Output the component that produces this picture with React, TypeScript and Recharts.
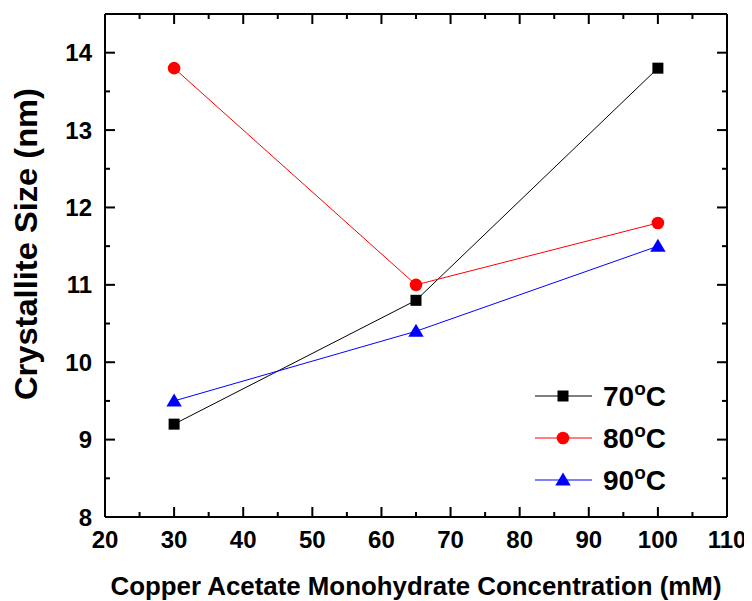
import React from 'react';
import { LineChart, Line, XAxis, YAxis } from 'recharts';

const concentrations = [30, 65, 100];
const size70 = [9.2, 10.8, 13.8];
const size80 = [13.8, 11.0, 11.8];
const size90 = [9.5, 10.4, 11.5];
const seriesTemps = ['70', '80', '90'];

const xTicks = [20, 25, 30, 35, 40, 45, 50, 55, 60, 65, 70, 75, 80, 85, 90, 95, 100, 105, 110];
const xMajor = [20, 30, 40, 50, 60, 70, 80, 90, 100, 110];
const yTicks = [8, 8.5, 9, 9.5, 10, 10.5, 11, 11.5, 12, 12.5, 13, 13.5, 14];
const yMajor = [8, 9, 10, 11, 12, 13, 14];

const xTitle = 'Copper Acetate Monohydrate Concentration (mM)';
const yTitle = 'Crystallite Size (nm)';

const data = concentrations.map((c, i) => ({
  x: c,
  s70: size70[i],
  s80: size80[i],
  s90: size90[i],
}));

const seriesStyle = [
  { key: 's70', temp: seriesTemps[0], color: '#000000', shape: 'square' },
  { key: 's80', temp: seriesTemps[1], color: '#ff0000', shape: 'circle' },
  { key: 's90', temp: seriesTemps[2], color: '#0000ff', shape: 'triangle' },
];

function marker(shape: string, color: string, cx: number, cy: number) {
  if (shape === 'square') {
    return <rect x={cx - 5.5} y={cy - 5.5} width={11} height={11} fill={color} />;
  }
  if (shape === 'circle') {
    return <circle cx={cx} cy={cy} r={6.3} fill={color} />;
  }
  return (
    <polygon
      points={`${cx},${cy - 7.5} ${cx + 7.7},${cy + 5.5} ${cx - 7.7},${cy + 5.5}`}
      fill={color}
    />
  );
}

const leftTick = (props: any) => {
  const { x, y, payload } = props;
  const major = yMajor.includes(payload.value);
  return (
    <g key={`l-${payload.value}`}>
      <rect x={x} y={y - 1} width={major ? 10 : 5} height={2} fill="#000" />
      {major && (
        <text x={x - 13} y={y + 8.5} textAnchor="end" fontSize={24} fontWeight="bold" fill="#000">
          {payload.value}
        </text>
      )}
    </g>
  );
};

const bottomTick = (props: any) => {
  const { x, y, payload } = props;
  const major = xMajor.includes(payload.value);
  const len = major ? 10 : 5;
  return (
    <g key={`b-${payload.value}`}>
      <rect x={x - 1} y={y - len} width={2} height={len} fill="#000" />
      {major && (
        <text x={x} y={y + 31} textAnchor="middle" fontSize={24} fontWeight="bold" fill="#000">
          {payload.value}
        </text>
      )}
    </g>
  );
};

const topTick = (props: any) => {
  const { x, y, payload } = props;
  const major = xMajor.includes(payload.value);
  return <rect key={`t-${payload.value}`} x={x - 1} y={y} width={2} height={major ? 10 : 5} fill="#000" />;
};

const rightTick = (props: any) => {
  const { x, y, payload } = props;
  const major = yMajor.includes(payload.value);
  const len = major ? 10 : 5;
  return <rect key={`r-${payload.value}`} x={x - len} y={y - 1} width={len} height={2} fill="#000" />;
};

const Overlay = () => (
  <svg
    width={744}
    height={593}
    style={{ position: 'absolute', left: 0, top: 0, pointerEvents: 'none', overflow: 'visible' }}
  >
    <text
      x={408}
      y={587}
      textAnchor="middle"
      fontSize={26}
      fontWeight="bold"
      fill="#000"
      textLength={611}
      lengthAdjust="spacingAndGlyphs"
    >
      {xTitle}
    </text>
    <text
      x={29}
      y={236}
      transform="rotate(-90, 29, 236)"
      textAnchor="middle"
      fontSize={31}
      fontWeight="bold"
      fill="#000"
      textLength={312}
      lengthAdjust="spacingAndGlyphs"
    >
      {yTitle}
    </text>
    <g transform="translate(520, 368)">
      {seriesStyle.map((s, i) => {
        const cy = 20 + i * 42;
        return (
          <g key={s.key}>
            <line x1={7} x2={64} y1={cy} y2={cy} stroke={s.color} strokeWidth={1} />
            {marker(s.shape, s.color, 35, cy)}
            <text x={75} y={cy + 9.5} fontSize={28} fontWeight="bold" fill="#000">
              {s.temp}
              <tspan fontSize={19} dy={-11}>o</tspan>
              <tspan fontSize={28} dy={11}>C</tspan>
            </text>
          </g>
        );
      })}
    </g>
  </svg>
);

export default function App() {
  return (
    <div
      style={{
        position: 'relative',
        width: 744,
        height: 593,
        fontFamily: '"Liberation Sans", Arial, sans-serif',
      }}
    >
      <LineChart width={744} height={593} data={data} margin={{ top: 5, right: 24, bottom: 0, left: 0 }}>
        <XAxis
          xAxisId="bottom"
          dataKey="x"
          type="number"
          domain={[20, 110]}
          allowDataOverflow
          ticks={xTicks}
          interval={0}
          height={84}
          tickSize={0}
          tickMargin={0}
          tickLine={false}
          tick={bottomTick}
          axisLine={{ stroke: '#000', strokeWidth: 2 }}
        />
        <XAxis
          xAxisId="top"
          orientation="top"
          dataKey="x"
          type="number"
          domain={[20, 110]}
          allowDataOverflow
          ticks={xTicks}
          interval={0}
          height={1}
          tickSize={0}
          tickMargin={0}
          tickLine={false}
          tick={topTick}
          axisLine={{ stroke: '#000', strokeWidth: 2 }}
        />
        <YAxis
          yAxisId="left"
          type="number"
          domain={[8, 14.5]}
          allowDataOverflow
          ticks={yTicks}
          interval={0}
          width={97}
          tickSize={0}
          tickMargin={0}
          tickLine={false}
          tick={leftTick}
          axisLine={{ stroke: '#000', strokeWidth: 2 }}
        />
        <YAxis
          yAxisId="right"
          orientation="right"
          type="number"
          domain={[8, 14.5]}
          allowDataOverflow
          ticks={yTicks}
          interval={0}
          width={1}
          tickSize={0}
          tickMargin={0}
          tickLine={false}
          tick={rightTick}
          axisLine={{ stroke: '#000', strokeWidth: 2 }}
        />
        <Line
          xAxisId="top"
          yAxisId="right"
          dataKey="s70"
          stroke="none"
          dot={false}
          activeDot={false}
          legendType="none"
          isAnimationActive={false}
        />
        {seriesStyle.map((s) => (
          <Line
            key={s.key}
            xAxisId="bottom"
            yAxisId="left"
            dataKey={s.key}
            stroke={s.color}
            strokeWidth={1}
            isAnimationActive={false}
            dot={(p: any) => (
              <g key={`${s.key}-${p.index}`}>{marker(s.shape, s.color, p.cx, p.cy)}</g>
            )}
            activeDot={false}
          />
        ))}
      </LineChart>
      <Overlay />
    </div>
  );
}
